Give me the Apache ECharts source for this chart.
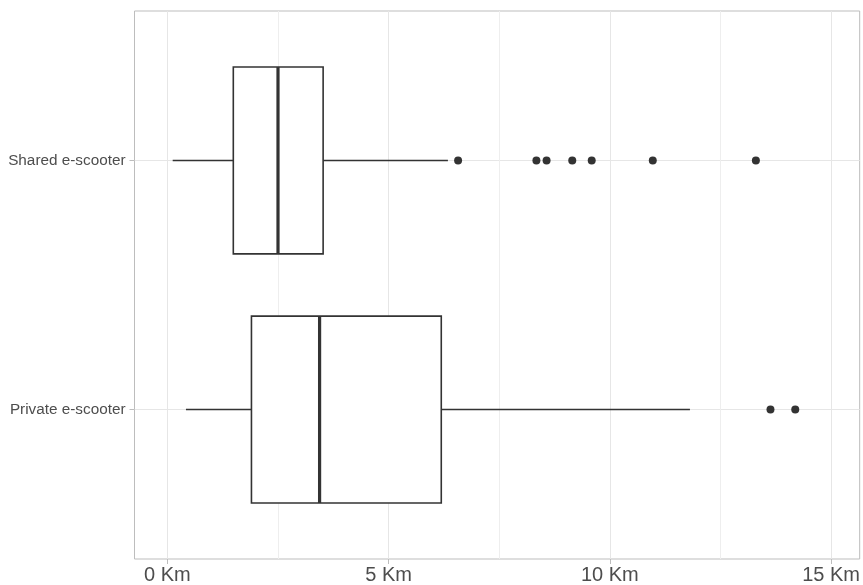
<!DOCTYPE html>
<html>
<head>
<meta charset="utf-8">
<script src="https://cdn.jsdelivr.net/npm/echarts@6/dist/echarts.min.js"></script>
<style>
html,body{margin:0;padding:0;background:#fff;}
#chart{width:863px;height:585px;}
</style>
</head>
<body>
<div id="chart"></div>
<script>
const categories = ['Private e-scooter', 'Shared e-scooter'];
const whiskerLow = [0.42, 0.12];
const q1 = [1.90, 1.49];
const median = [3.44, 2.50];
const q3 = [6.19, 3.52];
const whiskerHigh = [11.81, 6.34];
const outliersPrivate = [13.63, 14.19];
const outliersShared = [6.57, 8.34, 8.57, 9.15, 9.59, 10.97, 13.30];
const xTicks = [0, 5, 10, 15];
const xMinorTicks = [2.5, 7.5, 12.5];
const tickSuffix = ' Km';

const boxData = categories.map((c, i) => [i + 1, whiskerLow[i], q1[i], median[i], q3[i], whiskerHigh[i]]);
const outlierData = outliersPrivate.map(v => [v, 1]).concat(outliersShared.map(v => [v, 2]));

const XMIN = -0.743, XMAX = 15.646;
const chart = echarts.init(document.getElementById('chart'), null, {renderer: 'canvas'});
const lineColor = '#333333';

chart.setOption({
  animation: false,
  backgroundColor: '#ffffff',
  grid: {left: 134.5, right: 1, top: 11, bottom: 26, show: true, borderColor: '#bdbdbd', borderWidth: 1, backgroundColor: 'transparent'},
  xAxis: [{
    type: 'value', min: XMIN, max: XMAX,
    axisLine: {show: false, onZero: false},
    axisTick: {show: true, length: 5, customValues: xTicks, lineStyle: {color: '#bdbdbd'}},
    axisLabel: {customValues: xTicks, formatter: v => v + tickSuffix, fontSize: 20, color: '#4d4d4d', fontFamily: 'Liberation Sans', margin: 6},
    splitLine: {show: true, lineStyle: {color: '#e6e6e6', width: 1}}
  }, {
    type: 'value', min: XMIN, max: XMAX, position: 'bottom',
    axisLine: {show: false, onZero: false},
    axisTick: {show: false, customValues: xMinorTicks},
    axisLabel: {show: false, customValues: xMinorTicks},
    splitLine: {show: true, lineStyle: {color: '#eeeeee', width: 1}}
  }],
  yAxis: {
    type: 'value', min: 0.4, max: 2.6,
    axisLine: {show: false, onZero: false},
    axisTick: {show: true, length: 5, customValues: [1, 2], lineStyle: {color: '#bdbdbd'}},
    axisLabel: {customValues: [1, 2], formatter: v => categories[Math.round(v) - 1] || '', fontSize: 15.3, color: '#4d4d4d', fontFamily: 'Liberation Sans', margin: 9},
    splitLine: {show: true, lineStyle: {color: '#e6e6e6', width: 1}}
  },
  series: [{
    type: 'custom',
    xAxisIndex: 0,
    data: boxData,
    encode: {x: [1, 2, 3, 4, 5], y: 0},
    renderItem: function (params, api) {
      const y = api.value(0);
      const pLo = api.coord([api.value(1), y]);
      const pQ1 = api.coord([api.value(2), y]);
      const pMed = api.coord([api.value(3), y]);
      const pQ3 = api.coord([api.value(4), y]);
      const pHi = api.coord([api.value(5), y]);
      const half = api.size([0, 0.375])[1];
      const cy = pMed[1];
      return {
        type: 'group',
        children: [
          {type: 'line', shape: {x1: pLo[0], y1: cy, x2: pQ1[0], y2: cy}, style: {stroke: lineColor, lineWidth: 1.6}},
          {type: 'line', shape: {x1: pQ3[0], y1: cy, x2: pHi[0], y2: cy}, style: {stroke: lineColor, lineWidth: 1.6}},
          {type: 'rect', shape: {x: pQ1[0], y: cy - half, width: pQ3[0] - pQ1[0], height: 2 * half}, style: {fill: '#ffffff', stroke: lineColor, lineWidth: 1.6}},
          {type: 'line', shape: {x1: pMed[0], y1: cy - half, x2: pMed[0], y2: cy + half}, style: {stroke: lineColor, lineWidth: 3.2}}
        ]
      };
    }
  }, {
    type: 'scatter',
    xAxisIndex: 0,
    data: outlierData,
    symbol: 'circle',
    symbolSize: 8,
    itemStyle: {color: lineColor, opacity: 1}
  }]
});
</script>
</body>
</html>
